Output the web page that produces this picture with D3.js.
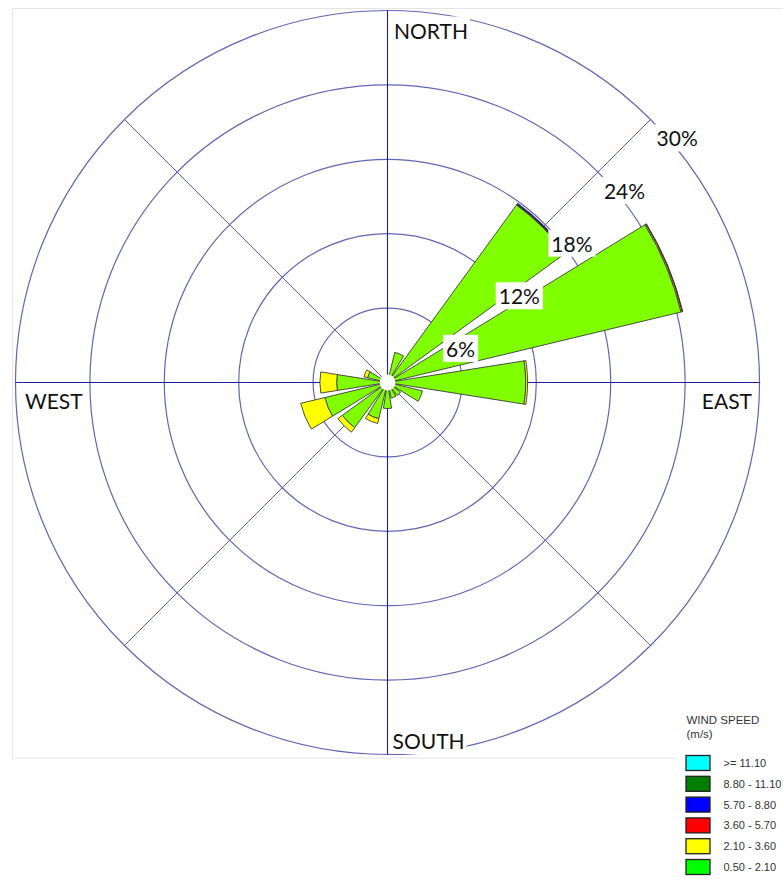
<!DOCTYPE html>
<html>
<head>
<meta charset="utf-8">
<script src="https://cdn.jsdelivr.net/npm/d3@7"></script>
<style>
  body { margin: 0; background: #fff; }
  svg { display: block; }
</style>
</head>
<body>
<div id="chart"></div>
<script>

// wind directions, clockwise from north
var directions = ["N", "NNE", "NE", "ENE", "E", "ESE", "SE", "SSE", "S", "SSW", "SW", "WSW", "W", "WNW", "NW", "NNW"];

// frequency (%) per direction for each wind speed class (m/s)
var speed050to210 = [0.4, 2.5, 17.7, 24.35, 11.15, 2.9, 1.3, 1.3, 2.1, 3.0, 4.5, 5.2, 4.1, 1.65, 0.4, 0.4];
var speed210to360 = [0, 0, 0.05, 0.1, 0.15, 0, 0, 0, 0, 0.4, 0.45, 2.0, 1.35, 0.3, 0, 0];
var speed360to570 = [0, 0, 0.03, 0.04, 0, 0, 0, 0, 0, 0, 0, 0, 0, 0, 0, 0];
var speed570to880 = [0, 0, 0.08, 0, 0, 0, 0, 0, 0, 0, 0, 0, 0, 0, 0, 0];
var speed880to1110 = [0, 0, 0, 0, 0, 0, 0, 0, 0, 0, 0, 0, 0, 0, 0, 0];
var speedAbove1110 = [0, 0, 0, 0, 0, 0, 0, 0, 0, 0, 0, 0, 0, 0, 0, 0];

// legend, top to bottom
var speedClasses = [">= 11.10", "8.80 - 11.10", "5.70 - 8.80", "3.60 - 5.70", "2.10 - 3.60", "0.50 - 2.10"];
var legendColors = ["#00ffff", "#007f00", "#0000ff", "#ff0000", "#ffff00", "#00ff00"];

// petal colours, inner class first
var petalColors = ["#80ff00", "#ffff00", "#ff0000", "#0000ff", "#007f00", "#00ffff"];

var ringTicks = [6, 12, 18, 24, 30];
var ringLabels = ["6%", "12%", "18%", "24%", "30%"];

var width = 783;
var height = 882;
var cx = 387.5;
var cy = 382.5;
var outerR = 372;
var holeR = 8;

var svg = d3.select('#chart').append('svg')
    .attr('width', width)
    .attr('height', height);

// faint plot frame
svg.append('rect')
    .attr('x', 12.5)
    .attr('y', 8.5)
    .attr('width', 800)
    .attr('height', 749.5)
    .attr('fill', 'none')
    .attr('stroke', '#e4e4e4')
    .attr('stroke-width', 1);

var rScale = d3.scaleLinear()
    .domain([0, 30])
    .range([0, outerR]);

var angleScale = d3.scaleLinear()
    .domain([0, directions.length])
    .range([0, 2 * Math.PI]);

var halfWidth = (angleScale(1) - angleScale(0)) * 0.4;

var g = svg.append('g')
    .attr('transform', 'translate(' + cx + ',' + cy + ')');

// rings
g.selectAll('circle.ring')
    .data(ringTicks)
    .enter()
    .append('circle')
    .attr('class', 'ring')
    .attr('r', function(d) { return rScale(d); })
    .attr('fill', 'none')
    .attr('stroke', '#6464b4')
    .attr('stroke-width', 1.2);

// spokes
var spokeAngles = [0, 45, 90, 135, 180, 225, 270, 315];
g.selectAll('line.spoke')
    .data(spokeAngles)
    .enter()
    .append('line')
    .attr('class', 'spoke')
    .attr('x1', 0)
    .attr('y1', 0)
    .attr('x2', function(d) { return outerR * Math.sin(d * Math.PI / 180); })
    .attr('y2', function(d) { return -outerR * Math.cos(d * Math.PI / 180); })
    .attr('stroke', function(d) { return d % 90 === 0 ? '#1e1e9a' : '#5a5ab8'; })
    .attr('stroke-width', function(d) { return d % 90 === 0 ? 1.1 : 1; });

// stacked petals
var keys = ['c1', 'c2', 'c3', 'c4', 'c5', 'c6'];
var table = directions.map(function(d, i) {
    return {
        dir: d,
        c1: speed050to210[i],
        c2: speed210to360[i],
        c3: speed360to570[i],
        c4: speed570to880[i],
        c5: speed880to1110[i],
        c6: speedAbove1110[i]
    };
});

var stacked = d3.stack().keys(keys)(table);

var arc = d3.arc()
    .innerRadius(function(d) { return rScale(d[0]); })
    .outerRadius(function(d) { return rScale(d[1]); })
    .startAngle(function(d) { return angleScale(d.i) - halfWidth; })
    .endAngle(function(d) { return angleScale(d.i) + halfWidth; });

var layers = g.selectAll('g.layer')
    .data(stacked)
    .enter()
    .append('g')
    .attr('class', 'layer')
    .attr('fill', function(d, i) { return petalColors[i]; });

layers.selectAll('path')
    .data(function(layer) {
        return layer.map(function(d, i) { return {0: d[0], 1: d[1], i: i}; })
            .filter(function(d) { return d[1] - d[0] > 0; });
    })
    .enter()
    .append('path')
    .attr('d', arc)
    .attr('stroke', '#3a3a3a')
    .attr('stroke-width', 0.9)
    .attr('stroke-linejoin', 'miter');

// calm hole
g.append('circle')
    .attr('r', holeR)
    .attr('fill', '#fff');

// label with a white box behind it
function boxedText(parent, x, y, txt, anchor, size, pad) {
    var lg = parent.append('g');
    var box = lg.append('rect').attr('fill', '#fff');
    var t = lg.append('text')
        .attr('x', x)
        .attr('y', y)
        .attr('text-anchor', anchor)
        .style('font', size + 'px Lato, "Open Sans", sans-serif')
        .style('fill', '#111')
        .text(txt);
    var bb = t.node().getBBox();
    box.attr('x', bb.x - pad)
        .attr('y', bb.y - 1)
        .attr('width', bb.width + 2 * pad)
        .attr('height', bb.height + 2);
}

// ring percent labels along the 45 degree line
ringTicks.forEach(function(d, i) {
    var p = rScale(d) * Math.SQRT1_2;
    boxedText(g, p + 6, -p + 27, ringLabels[i], 'start', 21, 3);
});

// compass labels
boxedText(g, 6.5, -outerR + 28, 'NORTH', 'start', 21, 2);
boxedText(g, 5, outerR - 5.5, 'SOUTH', 'start', 21, 2);
boxedText(g, -outerR + 9.5, 26, 'WEST', 'start', 21, 2);
boxedText(g, outerR - 7.5, 26, 'EAST', 'end', 21, 2);

// legend
var legend = svg.append('g')
    .attr('transform', 'translate(676,700)');

legend.append('rect')
    .attr('x', 0)
    .attr('y', 0)
    .attr('width', 120)
    .attr('height', 182)
    .attr('fill', '#fff');

legend.append('text')
    .attr('x', 10.5)
    .attr('y', 24)
    .style('font', '11.5px "Liberation Sans", Arial, sans-serif')
    .style('fill', '#333')
    .text('WIND SPEED');

legend.append('text')
    .attr('x', 10.5)
    .attr('y', 38)
    .style('font', '11.5px "Liberation Sans", Arial, sans-serif')
    .style('fill', '#333')
    .text('(m/s)');

var items = legend.selectAll('g.item')
    .data(speedClasses)
    .enter()
    .append('g')
    .attr('class', 'item')
    .attr('transform', function(d, i) { return 'translate(10,' + (55.5 + i * 20.8) + ')'; });

items.append('rect')
    .attr('width', 24)
    .attr('height', 15)
    .attr('fill', function(d, i) { return legendColors[i]; })
    .attr('stroke', '#222')
    .attr('stroke-width', 1.3);

items.append('text')
    .attr('x', 37.5)
    .attr('y', 11.5)
    .style('font', '11px "Liberation Sans", Arial, sans-serif')
    .style('fill', '#333')
    .text(function(d) { return d; });

</script>
</body>
</html>
